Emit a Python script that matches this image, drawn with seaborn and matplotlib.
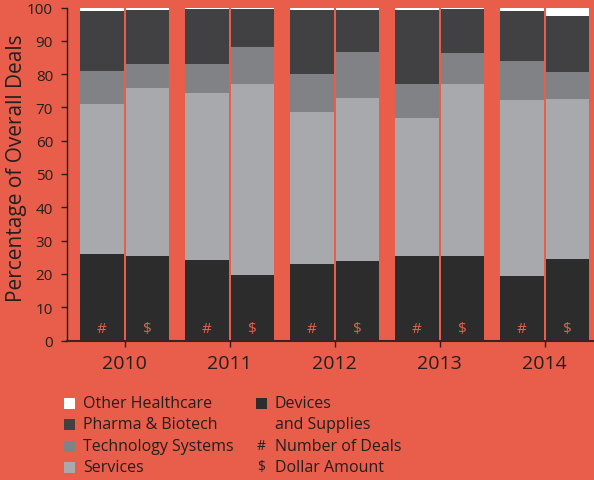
import numpy as np
import pandas as pd
import matplotlib
matplotlib.use('Agg')
import matplotlib.pyplot as plt
import seaborn as sns
from matplotlib.patches import Rectangle

years = ['2010', '2011', '2012', '2013', '2014']
metrics = ['#', '$']
# values per bar, order: 2010 #, 2010 $, 2011 #, 2011 $, ...
devices = [26.0, 25.4, 24.2, 19.7, 23.0, 23.9, 25.4, 25.4, 19.4, 24.5]
services = [45.0, 50.4, 50.1, 57.3, 45.6, 48.9, 41.4, 51.6, 52.8, 48.0]
tech = [9.9, 7.2, 8.7, 11.1, 11.4, 13.8, 10.2, 9.3, 11.7, 8.1]
pharma = [18.1, 16.2, 16.5, 11.4, 19.2, 12.6, 22.2, 13.2, 15.1, 16.8]
other = [1.0, 0.8, 0.5, 0.5, 0.8, 0.8, 0.8, 0.5, 1.0, 2.6]

segments = ['Devices', 'Services', 'Technology Systems', 'Pharma & Biotech', 'Other Healthcare']
colors = {'Devices': '#2d2c2d', 'Services': '#a7a9ac', 'Technology Systems': '#808285',
          'Pharma & Biotech': '#414042', 'Other Healthcare': '#ffffff'}
bg = '#e95e4a'
ink = '#231f20'

df = pd.DataFrame({'year': np.repeat(years, 2), 'metric': metrics * len(years),
                   'Devices': devices, 'Services': services, 'Technology Systems': tech,
                   'Pharma & Biotech': pharma, 'Other Healthcare': other})
# cumulative tops, drawn from the top layer down
cum = df[segments].cumsum(axis=1)
for s in segments:
    df['top_' + s] = cum[s]

sns.set_style('ticks')
plt.rcParams['font.family'] = ['Open Sans', 'DejaVu Sans']

fig = plt.figure(figsize=(5.94, 4.81), dpi=100)
fig.patch.set_facecolor(bg)
ax = fig.add_axes([67 / 594, 139.5 / 481, 527 / 594, 333 / 481])
ax.set_facecolor(bg)

group_w = 0.865
for s in reversed(segments):
    sns.barplot(data=df, x='year', y='top_' + s, hue='metric', hue_order=metrics,
                palette=[colors[s], colors[s]], width=group_w, gap=0.045,
                errorbar=None, linewidth=0, saturation=1, legend=False, ax=ax)

for i, yr in enumerate(years):
    for j, m in enumerate(metrics):
        ax.text(i + (j - 0.5) * group_w / 2, 3.75, m, ha='center', va='center',
                color=bg, fontsize=11)

ax.set_xlim(-0.548, 4.47)
ax.set_ylim(0, 100)
ax.set_yticks(range(0, 101, 10))
ax.set_xlabel('')
ax.set_ylabel('Percentage of Overall Deals', fontsize=15, color=ink)
ax.yaxis.set_label_coords(-0.076, 0.52)
ax.tick_params(axis='y', length=4, width=1, color=ink, labelsize=11, labelcolor=ink, pad=6)
ax.tick_params(axis='x', length=4, width=1, color=ink, labelsize=14, labelcolor=ink, pad=6)
ax.set_xticks([i for i in range(len(years))])
ax.set_xticklabels(years)
for side in ['top', 'right']:
    ax.spines[side].set_visible(False)
ax.spines['left'].set_color(ink)
ax.spines['left'].set_linewidth(1)
ax.spines['bottom'].set_color('#3a2220')
ax.spines['bottom'].set_linewidth(1.5)

# legend
W, H = 594, 481
left_items = ['Other Healthcare', 'Pharma & Biotech', 'Technology Systems', 'Services']
rows = [404, 425, 447, 468]
fs = 11.5
for name, yc in zip(left_items, rows):
    fig.patches.append(Rectangle((64 / W, 1 - (yc + 5.5) / H), 11 / W, 11 / H,
                                 transform=fig.transFigure, facecolor=colors[name],
                                 edgecolor='none'))
    fig.text(83 / W, 1 - yc / H, name, fontsize=fs, color=ink, va='center', ha='left')
fig.patches.append(Rectangle((256 / W, 1 - (rows[0] + 5.5) / H), 11 / W, 11 / H,
                             transform=fig.transFigure, facecolor=colors['Devices'],
                             edgecolor='none'))
fig.text(275 / W, 1 - rows[0] / H, 'Devices', fontsize=fs, color=ink, va='center')
fig.text(275 / W, 1 - rows[1] / H, 'and Supplies', fontsize=fs, color=ink, va='center')
fig.text(261 / W, 1 - rows[2] / H, '#', fontsize=10, color=ink, va='center', ha='center')
fig.text(275 / W, 1 - rows[2] / H, 'Number of Deals', fontsize=fs, color=ink, va='center')
fig.text(261 / W, 1 - rows[3] / H, '$', fontsize=10, color=ink, va='center', ha='center')
fig.text(275 / W, 1 - rows[3] / H, 'Dollar Amount', fontsize=fs, color=ink, va='center')

fig.savefig('out.png', dpi=100, facecolor=bg)
